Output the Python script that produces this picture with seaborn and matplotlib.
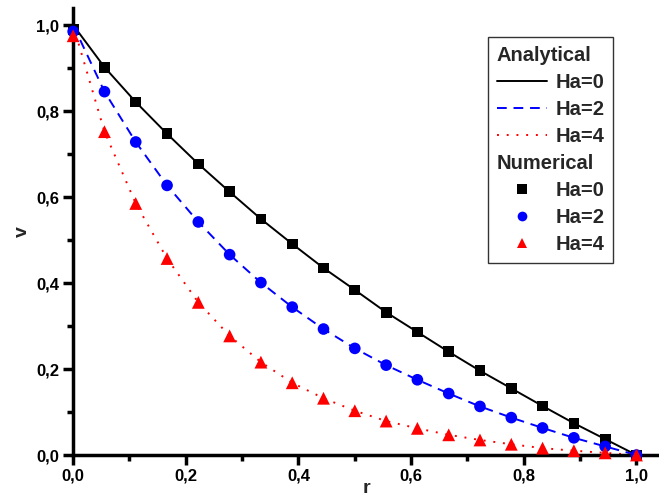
import pandas as pd
import matplotlib
matplotlib.use("Agg")
import matplotlib.pyplot as plt
from matplotlib.lines import Line2D
from matplotlib.ticker import MultipleLocator, FuncFormatter
import seaborn as sns

# Dados
r = [0.0, 0.0556, 0.1111, 0.1667, 0.2222, 0.2778, 0.3333, 0.3889, 0.4444, 0.5,
     0.5556, 0.6111, 0.6667, 0.7222, 0.7778, 0.8333, 0.8889, 0.9444, 1.0]

ana_ha0 = [1.0, 0.902, 0.821, 0.747, 0.677, 0.612, 0.549, 0.491, 0.435, 0.384,
           0.332, 0.286, 0.240, 0.196, 0.155, 0.114, 0.074, 0.037, 0.0]
ana_ha2 = [1.0, 0.845, 0.728, 0.627, 0.542, 0.466, 0.401, 0.344, 0.293, 0.248,
           0.209, 0.175, 0.143, 0.113, 0.087, 0.063, 0.040, 0.020, 0.0]
ana_ha4 = [1.0, 0.752, 0.585, 0.457, 0.355, 0.277, 0.216, 0.168, 0.132, 0.103,
           0.079, 0.062, 0.047, 0.035, 0.025, 0.016, 0.010, 0.005, 0.0]

num_ha0 = [0.99] + ana_ha0[1:]
num_ha2 = [0.985] + ana_ha2[1:]
num_ha4 = [0.975] + ana_ha4[1:]

labels = ["Ha=0", "Ha=2", "Ha=4"]
headers = ["Analytical", "Numerical"]
colors = ["black", "#0000ff", "#ff0000"]
linestyles = ["-", (0, (5, 3.5)), (0, (1, 4))]
markers = ["s", "o", "^"]
msizes = [60, 70, 85]

sns.set_style("ticks")
plt.rcParams["font.family"] = ["Liberation Sans", "DejaVu Sans"]
plt.rcParams["font.weight"] = "bold"

fig = plt.figure(figsize=(6.59, 4.98), dpi=100)
ax = fig.add_axes([0.111, 0.0863, 0.889, 0.898])

for ys, c, ls in zip([ana_ha0, ana_ha2, ana_ha4], colors, linestyles):
    df = pd.DataFrame({"r": r, "v": ys})
    sns.lineplot(data=df, x="r", y="v", ax=ax, color=c, linewidth=1.4,
                 linestyle=ls, sort=False)

for ys, c, m, s in zip([num_ha0, num_ha2, num_ha4], colors, markers, msizes):
    df = pd.DataFrame({"r": r, "v": ys})
    sns.scatterplot(data=df, x="r", y="v", ax=ax, color=c, marker=m, s=s,
                    edgecolor="none", clip_on=False, zorder=3)

ax.set_xlim(0, 1.04)
ax.set_ylim(0, 1.04)
ax.xaxis.set_major_locator(MultipleLocator(0.2))
ax.xaxis.set_minor_locator(MultipleLocator(0.1))
ax.yaxis.set_major_locator(MultipleLocator(0.2))
ax.yaxis.set_minor_locator(MultipleLocator(0.1))
fmt = FuncFormatter(lambda x, p: f"{x:.1f}".replace(".", ","))
ax.xaxis.set_major_formatter(fmt)
ax.yaxis.set_major_formatter(fmt)

sns.despine(ax=ax)
for side in ["left", "bottom"]:
    ax.spines[side].set_linewidth(2.5)
    ax.spines[side].set_color("black")
ax.tick_params(which="both", bottom=True, left=True, direction="out",
               color="black", labelcolor="black")
ax.tick_params(which="major", length=7, width=2.5, labelsize=12, pad=3)
ax.tick_params(which="minor", length=4, width=2.5)

ax.set_xlabel("r", fontsize=14, fontweight="bold", labelpad=-3)
ax.set_ylabel("v", fontsize=14, fontweight="bold", labelpad=4)

# Legenda: cabeçalhos ficam vazios e são escritos depois
blank = Line2D([], [], linestyle="none")
handles = [blank]
leg_labels = [""]
for c, ls in zip(colors, linestyles):
    handles.append(Line2D([], [], color=c, linestyle=ls, linewidth=1.4))
leg_labels += labels
handles.append(blank)
leg_labels.append("")
for c, m in zip(colors, markers):
    handles.append(Line2D([], [], color=c, marker=m, linestyle="none",
                          markersize=7, markeredgewidth=0))
leg_labels += labels

fs = 14.5
hl, hp = 2.5, 0.4
leg = ax.legend(handles, leg_labels, loc="upper left",
                bbox_to_anchor=(0.708, 0.935), frameon=True, fancybox=False,
                shadow=False, fontsize=fs, handlelength=hl, handletextpad=hp,
                labelspacing=0.4, borderpad=0.45, borderaxespad=0)
leg.get_frame().set_edgecolor("black")
leg.get_frame().set_linewidth(1.0)

fig.canvas.draw()
renderer = fig.canvas.get_renderer()
texts = leg.get_texts()
shift = (hl + hp) * fs * fig.dpi / 72
W, H = fig.bbox.width, fig.bbox.height
for hi, name in zip([0, 4], headers):
    b1 = texts[hi + 1].get_window_extent(renderer)
    b2 = texts[hi + 2].get_window_extent(renderer)
    cy1 = (b1.y0 + b1.y1) / 2
    cy2 = (b2.y0 + b2.y1) / 2
    fig.text((b1.x0 - shift) / W, (2 * cy1 - cy2) / H, name, fontsize=fs,
             fontweight="bold", ha="left", va="center")

fig.savefig("out.png", dpi=100)
